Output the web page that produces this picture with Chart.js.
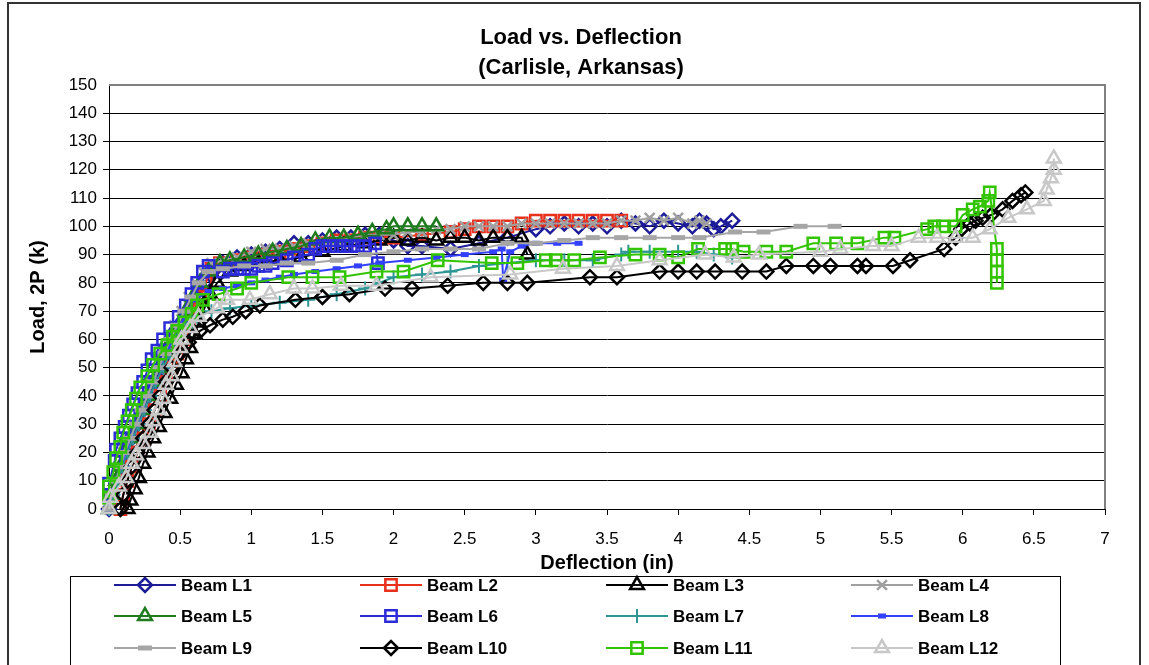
<!DOCTYPE html>
<html>
<head>
<meta charset="utf-8">
<script src="https://cdn.jsdelivr.net/npm/chart.js@4.4.1/dist/chart.umd.min.js"></script>
<style>
  body { margin: 0; background: #fff; }
  canvas { display: block; }
</style>
</head>
<body>
<canvas id="loadChart" width="1149" height="665"></canvas>
<script>
// ======================================================================
// Data: deflection (in), load 2P (k) per beam
// ======================================================================
const titleLines = ["Load vs. Deflection", "(Carlisle, Arkansas)"];
const beamNames = ["Beam L1", "Beam L2", "Beam L3", "Beam L4", "Beam L5", "Beam L6",
                   "Beam L7", "Beam L8", "Beam L9", "Beam L10", "Beam L11", "Beam L12"];

const beamL1 = [[0,0],[0.02,5],[0.05,10],[0.09,15],[0.12,20],[0.16,25],[0.2,30],[0.24,35],[0.28,40],
  [0.33,45],[0.37,50],[0.42,55],[0.47,60],[0.52,65],[0.57,70],[0.62,75],[0.67,80],[0.73,84],[0.8,87],
  [0.9,89],[1.0,90],[1.1,91],[1.2,92],[1.3,94],[1.4,94],[1.5,95],[1.6,96],[1.7,96],[1.8,97],[1.9,97],
  [2.0,95],[2.1,93],[2.2,93],[2.4,92],[2.6,94],[2.8,96],[3.0,99],[3.1,100],[3.2,101],[3.3,100],
  [3.4,101],[3.5,100],[3.6,102],[3.7,101],[3.8,100],[3.9,102],[4.0,101],[4.1,100],[4.15,102],
  [4.2,101],[4.25,99],[4.3,100],[4.38,102]];
const beamL2 = [[0.08,0],[0.1,5],[0.13,10],[0.16,15],[0.2,20],[0.24,25],[0.28,30],[0.32,35],[0.36,40],
  [0.4,45],[0.44,50],[0.48,55],[0.52,60],[0.56,65],[0.6,70],[0.64,75],[0.68,80],[0.72,85],[0.78,87],
  [0.9,88],[1.0,89],[1.1,90],[1.2,91],[1.3,92],[1.4,93],[1.5,94],[1.6,95],[1.7,95],[1.8,96],[1.9,96],
  [2.0,96],[2.2,97],[2.4,98],[2.5,99],[2.6,100],[2.7,100],[2.8,100],[2.9,101],[3.0,102],[3.1,102],
  [3.2,102],[3.3,102],[3.4,102],[3.5,102],[3.6,102]];
const beamL3 = [[0.13,0],[0.15,3],[0.18,7],[0.21,11],[0.24,16],[0.27,20],[0.31,25],[0.35,29],[0.39,34],
  [0.43,39],[0.47,44],[0.51,48],[0.54,53],[0.57,57],[0.6,62],[0.63,66],[0.67,71],[0.71,76],[0.76,80],
  [0.85,84],[0.95,86],[1.05,87],[1.2,88],[1.35,89],[1.5,91],[1.65,93],[1.8,94],[1.9,95],[2.0,96],
  [2.1,95],[2.2,96],[2.3,95],[2.4,96],[2.5,96],[2.6,95],[2.7,96],[2.8,96],[2.9,96],[2.94,90]];
const beamL4 = [[0,0],[0.02,5],[0.04,10],[0.07,15],[0.1,20],[0.14,25],[0.18,30],[0.22,35],[0.26,40],
  [0.3,45],[0.34,50],[0.38,55],[0.42,60],[0.46,65],[0.51,70],[0.56,75],[0.61,80],[0.66,84],[0.72,87],
  [0.8,88],[0.9,89],[1.0,91],[1.1,92],[1.2,92],[1.3,93],[1.4,94],[1.5,95],[1.6,95],[1.7,96],[1.8,97],
  [1.9,97],[2.0,97],[2.1,98],[2.2,98],[2.3,99],[2.4,99],[2.5,100],[2.6,100],[2.7,100],[2.8,100],
  [2.9,101],[3.0,101],[3.1,101],[3.2,101],[3.3,101],[3.4,101],[3.5,101],[3.6,102],[3.7,102],
  [3.8,103],[3.9,102],[4.0,103],[4.1,101],[4.15,102],[4.2,101]];
const beamL5 = [[0,0],[0.02,5],[0.05,10],[0.08,15],[0.11,20],[0.15,25],[0.19,30],[0.23,35],[0.27,40],
  [0.31,45],[0.35,50],[0.4,55],[0.44,60],[0.49,65],[0.54,70],[0.59,75],[0.64,80],[0.7,84],[0.78,87],
  [0.85,88],[0.95,89],[1.05,90],[1.15,91],[1.25,92],[1.35,93],[1.45,95],[1.55,96],[1.65,96],
  [1.75,97],[1.85,98],[1.95,99],[2.0,100],[2.1,100],[2.2,100],[2.3,100]];
const beamL6 = [[0,5],[0,9],[0.04,17],[0.05,21],[0.08,25],[0.11,29],[0.14,33],[0.17,37],[0.2,41],
  [0.24,45],[0.27,49],[0.3,53],[0.34,56],[0.38,60],[0.43,64],[0.49,68],[0.54,72],[0.58,76],[0.62,80],
  [0.66,84],[0.7,86],[0.8,84],[0.85,85],[0.9,85],[0.95,85],[1.0,85],[1.05,86],[1.1,86],[1.15,87],
  [1.25,88],[1.3,89],[1.4,90],[1.45,92],[1.5,93],[1.55,93],[1.6,93],[1.65,93],[1.7,93],[1.75,93],
  [1.8,93],[1.87,94],[1.89,87]];
const beamL7 = [[0,0],[0.03,5],[0.06,10],[0.09,15],[0.13,20],[0.17,25],[0.21,30],[0.25,35],[0.29,40],
  [0.33,45],[0.38,50],[0.43,55],[0.48,60],[0.54,64],[0.62,68],[0.72,70],[0.85,71],[1.0,72],[1.2,73],
  [1.4,74],[1.6,76],[1.8,78],[1.9,80],[2.0,82],[2.2,83],[2.4,84],[2.6,86],[2.8,87],[3.0,88],[3.2,88],
  [3.4,88],[3.6,90],[3.65,91],[3.8,91],[4.0,91],[4.13,91],[4.25,90],[4.38,89]];
const beamL8 = [[0,0],[0.02,5],[0.05,10],[0.08,15],[0.12,20],[0.15,25],[0.19,30],[0.23,35],[0.27,40],
  [0.31,45],[0.35,50],[0.4,55],[0.45,60],[0.5,65],[0.55,70],[0.6,74],[0.7,77],[0.8,78],[0.9,79],
  [1.0,80],[1.1,81],[1.2,82],[1.3,83],[1.45,84],[1.6,85],[1.75,86],[1.9,87],[2.1,88],[2.3,89],
  [2.5,90],[2.7,91],[2.76,92],[2.77,81],[2.82,91],[2.9,93],[3.0,94],[3.15,94],[3.3,94]];
const beamL9 = [[0,0],[0.02,5],[0.05,10],[0.08,15],[0.11,20],[0.15,25],[0.19,30],[0.23,35],[0.27,40],
  [0.31,45],[0.35,50],[0.39,55],[0.43,60],[0.48,65],[0.53,70],[0.58,75],[0.63,80],[0.7,84],[0.8,85],
  [0.95,86],[1.1,86],[1.25,87],[1.4,87],[1.6,88],[1.8,90],[2.0,91],[2.2,92],[2.4,92],[2.6,92],
  [2.8,94],[3.0,94],[3.2,95],[3.4,96],[3.6,96],[3.8,96],[4.0,96],[4.15,96],[4.4,98],[4.6,98],
  [4.86,100],[5.1,100]];
const beamL10 = [[0.08,0],[0.1,5],[0.13,10],[0.16,15],[0.2,20],[0.24,25],[0.28,30],[0.32,35],[0.36,40],
  [0.4,45],[0.44,50],[0.5,55],[0.56,59],[0.64,63],[0.71,65],[0.8,67],[0.87,68],[0.96,70],[1.06,72],
  [1.31,74],[1.5,75],[1.69,76],[1.94,78],[2.13,78],[2.38,79],[2.63,80],[2.8,80],[2.94,80],[3.38,82],
  [3.57,82],[3.87,84],[4.0,84],[4.13,84],[4.26,84],[4.45,84],[4.62,84],[4.76,86],[4.95,86],[5.07,86],
  [5.26,86],[5.32,86],[5.51,86],[5.63,88],[5.87,92],[5.95,96],[5.99,99],[6.05,101],[6.09,102],
  [6.14,103],[6.2,104],[6.28,106],[6.35,109],[6.41,111],[6.44,112]];
const beamL11 = [[0,4],[0,8],[0.03,13],[0.05,18],[0.08,22],[0.1,27],[0.13,31],[0.16,35],[0.19,39],
  [0.22,43],[0.27,47],[0.31,51],[0.36,55],[0.41,58],[0.45,61],[0.48,63],[0.53,66],[0.58,69],[0.62,72],
  [0.66,74],[0.77,76],[0.9,78],[1.0,80],[1.26,82],[1.43,82],[1.62,82],[1.88,84],[2.07,84],[2.31,88],
  [2.69,87],[2.87,87],[3.07,88],[3.14,88],[3.27,88],[3.45,89],[3.7,90],[3.87,90],[4.0,89],[4.14,92],
  [4.33,92],[4.38,92],[4.46,91],[4.62,91],[4.76,91],[4.95,94],[5.11,94],[5.26,94],[5.45,96],[5.52,96],
  [5.75,99],[5.8,100],[5.86,100],[5.95,100],[6.0,104],[6.07,106],[6.12,107],[6.18,109],[6.19,112],
  [6.24,92],[6.24,88],[6.24,84],[6.24,80]];
const beamL12 = [[0,0],[0.01,4],[0.07,8],[0.12,11],[0.16,16],[0.19,19],[0.24,23],[0.29,27],[0.31,31],
  [0.35,35],[0.38,39],[0.4,44],[0.44,47],[0.46,52],[0.5,57],[0.51,60],[0.57,64],[0.63,68],[0.76,71],
  [0.83,74],[0.99,74],[1.13,76],[1.3,78],[1.43,78],[1.63,79],[1.88,79],[2.26,82],[2.82,83],[3.19,85],
  [3.57,86],[3.87,88],[4.19,90],[4.39,89],[4.57,90],[5.0,91],[5.14,92],[5.37,93],[5.5,93],[5.69,96],
  [5.82,96],[5.95,96],[6.07,96],[6.19,99],[6.32,103],[6.45,106],[6.57,109],[6.59,113],[6.62,117],
  [6.64,120],[6.64,124]];

const beamData = [beamL1, beamL2, beamL3, beamL4, beamL5, beamL6,
                  beamL7, beamL8, beamL9, beamL10, beamL11, beamL12];

// ======================================================================
// Styles per series (Excel-like markers)
// ======================================================================
const beamColors = ["#1c1c99", "#e8301c", "#000000", "#a0a0a0", "#1e7b1e", "#2b2bd9",
                    "#2e9595", "#3340ff", "#a6a6a6", "#000000", "#33c400", "#c8c8c8"];
const beamMarkers = [
  { style: "rectRot", r: 7, w: 2.5 },
  { style: "rect", r: 8, w: 2.5 },
  { style: "triangle", r: 8, w: 2.5 },
  { style: "crossRot", r: 7, w: 2.5 },
  { style: "triangle", r: 8, w: 2.5 },
  { style: "rect", r: 8, w: 2.5 },
  { style: "cross", r: 7, w: 2 },
  { style: "line", r: 4, w: 5 },
  { style: "line", r: 7, w: 5 },
  { style: "rectRot", r: 7, w: 2.5 },
  { style: "rect", r: 8, w: 2.5 },
  { style: "triangle", r: 8, w: 2.5 }
];

const FONT = "Arial, 'Liberation Sans', sans-serif";

// ======================================================================
// Plugin: outer frame, plot frame, title, legend box
// ======================================================================
const decorPlugin = {
  id: "decor",
  beforeDatasetsDraw(chart) {
    const { ctx, chartArea: a } = chart;
    ctx.save();
    ctx.strokeStyle = "#808080";
    ctx.lineWidth = 2;
    ctx.beginPath();
    ctx.moveTo(a.left, a.top);
    ctx.lineTo(a.right, a.top);
    ctx.lineTo(a.right, a.bottom);
    ctx.stroke();
    ctx.restore();
  },
  afterDraw(chart) {
    const ctx = chart.ctx;
    ctx.save();
    // outer frame
    ctx.strokeStyle = "#333";
    ctx.lineWidth = 2;
    ctx.strokeRect(8, 3, 1132, 700);

    // title
    ctx.fillStyle = "#000";
    ctx.font = "bold 22px " + FONT;
    ctx.textAlign = "center";
    ctx.textBaseline = "middle";
    ctx.fillText(titleLines[0], 581, 38);
    ctx.fillText(titleLines[1], 581, 68);

    // legend
    ctx.strokeStyle = "#000";
    ctx.lineWidth = 1;
    ctx.strokeRect(70.5, 576.5, 990, 120);
    const colX = [114, 360, 606, 851];
    const rowY = [585, 616, 648];
    ctx.font = "bold 17px " + FONT;
    ctx.textAlign = "left";
    chart.data.datasets.forEach((ds, i) => {
      const x = colX[i % 4];
      const y = rowY[Math.floor(i / 4)];
      ctx.strokeStyle = ds.borderColor;
      ctx.lineWidth = 2;
      ctx.beginPath();
      ctx.moveTo(x, y);
      ctx.lineTo(x + 62, y);
      ctx.stroke();
      ctx.fillStyle = "rgba(0,0,0,0)";
      ctx.lineWidth = ds.pointBorderWidth;
      Chart.helpers.drawPoint(ctx, {
        pointStyle: ds.pointStyle, radius: ds.pointRadius,
        borderWidth: ds.pointBorderWidth, rotation: 0
      }, x + 31, y);
      ctx.fillStyle = "#000";
      ctx.fillText(beamNames[i], x + 67, y + 1);
    });
    ctx.restore();
  }
};

// ======================================================================
// Chart
// ======================================================================
const datasets = beamData.map((pts, i) => ({
  label: beamNames[i],
  data: pts.map(p => ({ x: p[0], y: p[1] })),
  showLine: true,
  borderColor: beamColors[i],
  backgroundColor: "rgba(0,0,0,0)",
  borderWidth: 2,
  pointStyle: beamMarkers[i].style,
  pointRadius: beamMarkers[i].r,
  pointBorderWidth: beamMarkers[i].w,
  pointBorderColor: beamColors[i],
  pointBackgroundColor: "rgba(0,0,0,0)",
  tension: 0,
  clip: false,
  order: 12 - i
}));

new Chart(document.getElementById("loadChart"), {
  type: "scatter",
  data: { datasets },
  options: {
    responsive: false,
    animation: false,
    devicePixelRatio: 1,
    layout: { padding: { left: 10, right: 44, top: 85, bottom: 90 } },
    plugins: {
      legend: { display: false },
      title: { display: false },
      tooltip: { enabled: false }
    },
    scales: {
      x: {
        type: "linear",
        min: 0,
        max: 7,
        afterFit: s => { s.height = 66; },
        ticks: {
          stepSize: 0.5, color: "#000", padding: 14, font: { size: 17, family: FONT },
          callback: v => String(v)
        },
        grid: { drawOnChartArea: false, drawTicks: true, tickLength: 6, color: "#000" },
        border: { color: "#000", width: 1 },
        title: {
          display: true, text: "Deflection (in)", color: "#000",
          font: { size: 20, weight: "bold", family: FONT }, padding: { top: 0, bottom: 0 }
        }
      },
      y: {
        min: 0,
        max: 150,
        afterFit: s => { s.width = 99; },
        ticks: { stepSize: 10, color: "#000", padding: 6, font: { size: 17, family: FONT } },
        grid: {
          color: ctx => (ctx.tick && ctx.tick.value === 150 ? "rgba(0,0,0,0)" : "#000"),
          tickLength: 6
        },
        border: { color: "#000", width: 1 },
        title: {
          display: true, text: "Load, 2P (k)", color: "#000",
          font: { size: 20, weight: "bold", family: FONT }, padding: { top: 16, bottom: 0 }
        }
      }
    }
  },
  plugins: [decorPlugin]
});
</script>
</body>
</html>
